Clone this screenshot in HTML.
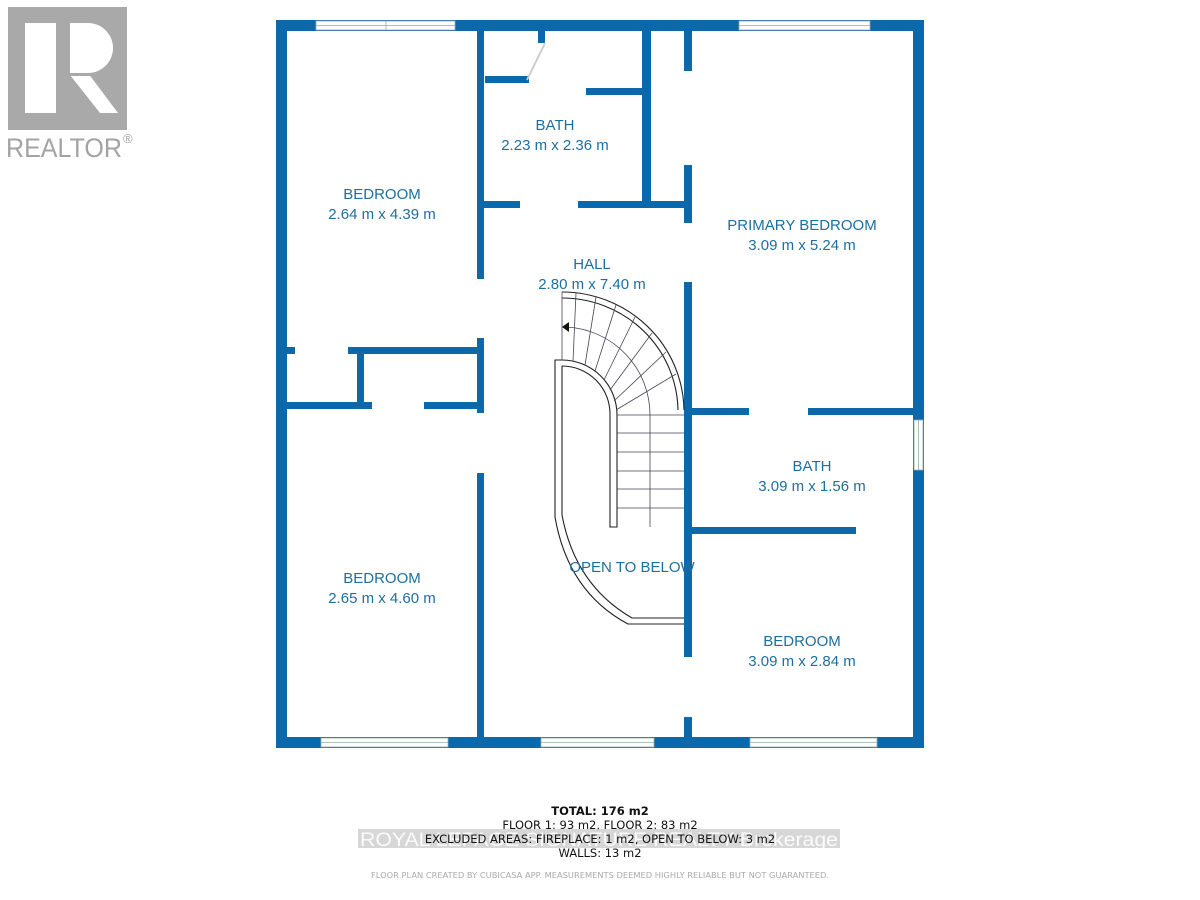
<!DOCTYPE html>
<html><head><meta charset="utf-8"><style>
html,body{margin:0;padding:0;background:#fff;width:1200px;height:900px;overflow:hidden}
svg{display:block}
.r{font-family:"Liberation Sans",sans-serif;fill:#1d6f9f;font-size:15px;text-anchor:middle}
.b{font-family:"DejaVu Sans","Liberation Sans",sans-serif;fill:#111;font-size:11.5px;text-anchor:middle}
</style></head><body>
<svg width="1200" height="900" viewBox="0 0 1200 900" xmlns="http://www.w3.org/2000/svg">
<rect x="8" y="7" width="119" height="123" fill="#a9a9a9"/>
<rect x="25" y="23" width="31" height="90" fill="#fff"/>
<path d="M70 23 H88 A25 25 0 0 1 88 73 L118 113 H100 L70 75 V113 Z" fill="#fff"/>
<rect x="70" y="73" width="30" height="3" fill="#a9a9a9"/>
<text x="6" y="157" font-family="Liberation Sans,sans-serif" font-size="27" fill="#a3a3a3" textLength="116" lengthAdjust="spacingAndGlyphs">REALTOR</text>
<text x="123" y="143" font-family="Liberation Sans,sans-serif" font-size="13" fill="#a3a3a3">®</text>

<g fill="#0b69ab">
<rect x="276" y="20" width="648" height="11"/>
<rect x="276" y="737" width="648" height="11"/>
<rect x="276" y="20" width="11" height="728"/>
<rect x="913" y="20" width="11" height="728"/>
<rect x="477" y="31" width="7" height="248"/>
<rect x="477" y="338" width="7" height="75"/>
<rect x="477" y="473" width="7" height="264"/>
<rect x="287" y="347" width="8" height="7"/>
<rect x="348" y="347" width="133" height="7"/>
<rect x="357" y="347" width="7" height="60"/>
<rect x="287" y="402" width="85" height="7"/>
<rect x="424" y="402" width="57" height="7"/>
<rect x="642" y="31" width="9" height="171"/>
<rect x="481" y="201" width="39" height="7"/>
<rect x="578" y="201" width="113" height="7"/>
<rect x="485" y="76" width="44" height="7"/>
<rect x="586" y="88" width="63" height="7"/>
<rect x="538" y="31" width="7" height="12"/>
<rect x="684" y="31" width="8" height="40"/>
<rect x="684" y="165" width="8" height="58"/>
<rect x="684" y="282" width="8" height="375"/>
<rect x="684" y="717" width="8" height="20"/>
<rect x="692" y="408" width="57" height="7"/>
<rect x="808" y="408" width="107" height="7"/>
<rect x="692" y="527" width="164" height="7"/>
</g>
<g fill="#fff" stroke="#9aa" stroke-width="0.8">
<rect x="316" y="21" width="139" height="9"/>
<line x1="316" y1="25.5" x2="455" y2="25.5"/>
<line x1="386" y1="21" x2="386" y2="30"/>
<rect x="739" y="21" width="131" height="9"/>
<line x1="739" y1="25.5" x2="870" y2="25.5"/>
<rect x="321" y="738" width="127" height="9"/>
<line x1="321" y1="742.5" x2="448" y2="742.5"/>
<rect x="541" y="738" width="113" height="9"/>
<line x1="541" y1="742.5" x2="654" y2="742.5"/>
<rect x="750" y="738" width="127" height="9"/>
<line x1="750" y1="742.5" x2="877" y2="742.5"/>
<rect x="914" y="420" width="9" height="50"/>
<line x1="918.5" y1="420" x2="918.5" y2="470"/>
</g>
<line x1="545" y1="43" x2="527" y2="80" stroke="#ccc" stroke-width="2"/>

<g fill="none" stroke="#222" stroke-width="1.1">
<path d="M562 292 A122 120 0 0 1 684 410"/>
<path d="M562 298 A116 114 0 0 1 678 410"/>
<path d="M555 413 V360 H562 A55 55 0 0 1 617 415 V527 H610 V415"/>
<path d="M562 366 A48 48 0 0 1 610 415"/>
<path d="M562 366 V515 Q575 585 632 618 H684"/>
<path d="M555 413 V517 Q568 592 628 624 H684"/>
</g>
<g fill="none" stroke="#445" stroke-width="0.8">
<line x1="562" y1="292" x2="562" y2="360"/>
<line x1="576" y1="293" x2="573" y2="361"/>
<line x1="596" y1="297" x2="585" y2="365"/>
<line x1="616" y1="305" x2="595" y2="371"/>
<line x1="635" y1="317" x2="604" y2="380"/>
<line x1="652" y1="333" x2="610" y2="390"/>
<line x1="666" y1="352" x2="614" y2="401"/>
<line x1="676" y1="374" x2="616" y2="410"/>
<line x1="617" y1="415" x2="684" y2="415"/>
<line x1="617" y1="433" x2="684" y2="433"/>
<line x1="617" y1="452" x2="684" y2="452"/>
<line x1="617" y1="471" x2="684" y2="471"/>
<line x1="617" y1="489" x2="684" y2="489"/>
<line x1="617" y1="508" x2="684" y2="508"/>
<line x1="650" y1="415" x2="650" y2="527"/>
<path d="M567 327 A88 88 0 0 1 650 415"/>
</g>
<path d="M562 327 L569 322 L569 332 Z" fill="#111"/>

<text class="r" x="382" y="199">BEDROOM</text>
<text class="r" x="382" y="219">2.64 m x 4.39 m</text>
<text class="r" x="555" y="130">BATH</text>
<text class="r" x="555" y="150">2.23 m x 2.36 m</text>
<text class="r" x="592" y="269">HALL</text>
<text class="r" x="592" y="289">2.80 m x 7.40 m</text>
<text class="r" x="802" y="230">PRIMARY BEDROOM</text>
<text class="r" x="802" y="250">3.09 m x 5.24 m</text>
<text class="r" x="812" y="471">BATH</text>
<text class="r" x="812" y="491">3.09 m x 1.56 m</text>
<text class="r" x="632" y="572">OPEN TO BELOW</text>
<text class="r" x="382" y="583">BEDROOM</text>
<text class="r" x="382" y="603">2.65 m x 4.60 m</text>
<text class="r" x="802" y="646">BEDROOM</text>
<text class="r" x="802" y="666">3.09 m x 2.84 m</text>

<text class="b" x="600" y="815" font-weight="bold">TOTAL: 176 m2</text>
<text class="b" x="600" y="829">FLOOR 1: 93 m2, FLOOR 2: 83 m2</text>
<rect x="358" y="829" width="482" height="19" fill="#c9c9c9" opacity="0.75"/>
<text x="360" y="846" font-family="Liberation Sans,sans-serif" font-size="19" fill="#fff" opacity="0.9" textLength="478" lengthAdjust="spacingAndGlyphs">ROYAL LEPAGE SIGNATURE REALTY Brokerage</text>
<text class="b" x="600" y="843">EXCLUDED AREAS: FIREPLACE: 1 m2, OPEN TO BELOW: 3 m2</text>
<text class="b" x="600" y="857">WALLS: 13 m2</text>
<text x="600" y="878" font-family="DejaVu Sans,sans-serif" font-size="8" fill="#aaa" text-anchor="middle" textLength="458" lengthAdjust="spacingAndGlyphs">FLOOR PLAN CREATED BY CUBICASA APP. MEASUREMENTS DEEMED HIGHLY RELIABLE BUT NOT GUARANTEED.</text>
</svg>
</body></html>
